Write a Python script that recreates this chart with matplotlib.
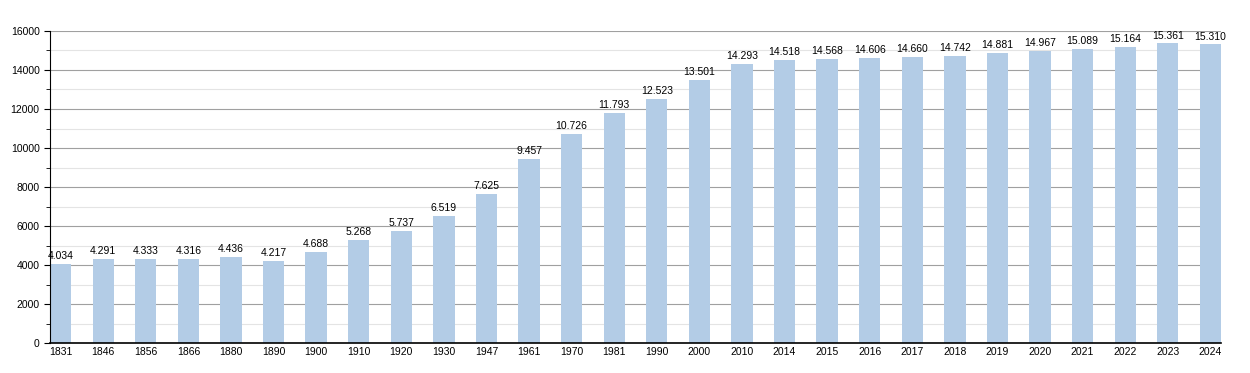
import matplotlib.pyplot as plt
from matplotlib.ticker import MultipleLocator

years = ['1831', '1846', '1856', '1866', '1880', '1890', '1900', '1910', '1920', '1930',
         '1947', '1961', '1970', '1981', '1990', '2000', '2010', '2014', '2015', '2016',
         '2017', '2018', '2019', '2020', '2021', '2022', '2023', '2024']
population = [4034, 4291, 4333, 4316, 4436, 4217, 4688, 5268, 5737, 6519,
              7625, 9457, 10726, 11793, 12523, 13501, 14293, 14518, 14568, 14606,
              14660, 14742, 14881, 14967, 15089, 15164, 15361, 15310]

plt.rcParams['font.family'] = ['Liberation Sans', 'DejaVu Sans']

fig = plt.figure(figsize=(12.5, 3.73), dpi=100)
ax = fig.add_axes([0.04, 0.0804, 0.9368, 0.8365])

x = list(range(len(years)))
ax.bar(x, population, width=0.5, color='#b3cce6', zorder=2)

for i, v in enumerate(population):
    label = '{:,}'.format(v).replace(',', '.')
    ax.text(i, v + 150, label, ha='center', va='bottom', fontsize=7.5, zorder=3)

ax.set_xlim(-0.25, len(years) - 0.75)
ax.set_ylim(0, 16000)
ax.set_xticks(x)
ax.set_xticklabels(years, fontsize=7.5)
ax.yaxis.set_major_locator(MultipleLocator(2000))
ax.yaxis.set_minor_locator(MultipleLocator(1000))
ax.tick_params(axis='y', labelsize=7.5, length=4)
ax.tick_params(axis='y', which='minor', length=3)
ax.tick_params(axis='x', length=0, pad=3)

ax.grid(axis='y', which='major', color='#a0a0a0', linewidth=0.8, zorder=0)
ax.grid(axis='y', which='minor', color='#e4e4e4', linewidth=0.8, zorder=0)

ax.spines['top'].set_visible(False)
ax.spines['right'].set_visible(False)
ax.spines['left'].set_color('black')
ax.spines['bottom'].set_color('black')
ax.spines['bottom'].set_linewidth(1.2)

fig.savefig('out.png', dpi=100)
